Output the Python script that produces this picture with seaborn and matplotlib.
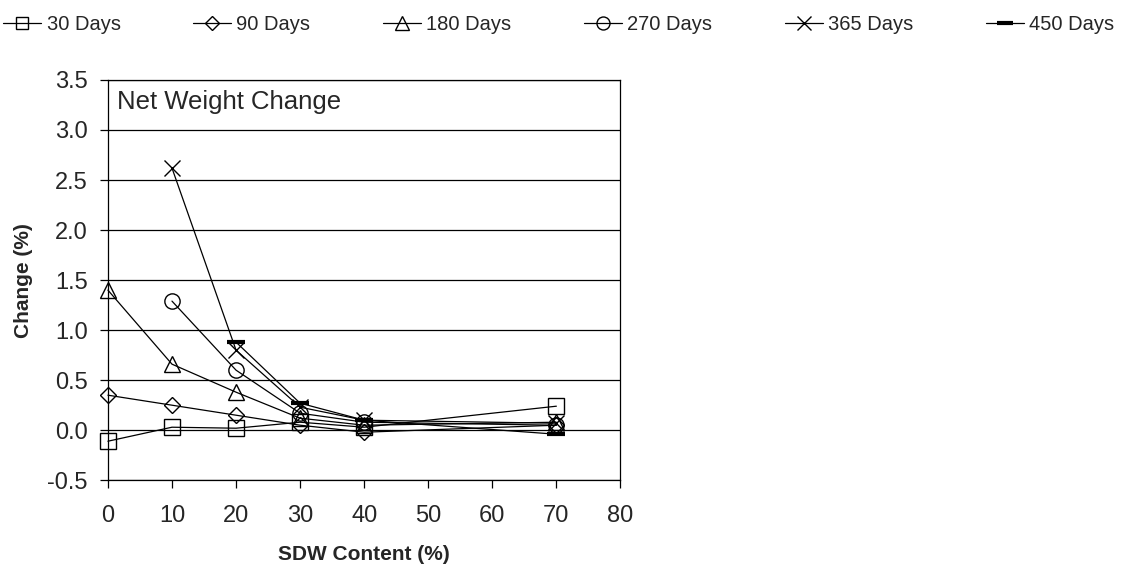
import numpy as np
import pandas as pd
import matplotlib
matplotlib.use('Agg')
import matplotlib.pyplot as plt
import seaborn as sns

# Data
sdw = [0, 10, 20, 30, 40, 70]
days_30 = [-0.11, 0.03, 0.02, 0.08, 0.03, 0.24]
days_90 = [0.35, 0.25, 0.15, 0.05, -0.02, 0.05]
days_180 = [1.40, 0.66, 0.38, 0.12, 0.05, 0.08]
days_270 = [np.nan, 1.29, 0.60, 0.17, 0.08, 0.05]
days_365 = [np.nan, 2.62, 0.80, 0.23, 0.10, 0.07]
days_450 = [np.nan, np.nan, 0.88, 0.27, 0.10, -0.04]

labels = ['30 Days', '90 Days', '180 Days', '270 Days', '365 Days', '450 Days']
series = [days_30, days_90, days_180, days_270, days_365, days_450]
markers = ['s', 'D', '^', 'o', 'x', '_']
msizes = [11, 8, 12, 11, 12, 13]
mew = [1.0, 1.0, 1.0, 1.0, 1.0, 3.0]

sns.set_style('white')
plt.rcParams['font.family'] = ['Liberation Sans', 'DejaVu Sans']

fig = plt.figure(figsize=(11.24, 5.67), dpi=100)
ax = fig.add_axes([0.096, 0.153, 0.456, 0.706])

for lab, vals, m, ms, w in zip(labels, series, markers, msizes, mew):
    df = pd.DataFrame({'SDW': sdw, 'Change': vals}).dropna()
    sns.lineplot(data=df, x='SDW', y='Change', ax=ax, color='black',
                 marker=m, markersize=ms, markerfacecolor='none',
                 markeredgecolor='black', markeredgewidth=w,
                 linewidth=0.9, label=lab, legend=False, clip_on=False,
                 zorder=3)

ax.set_xlim(0, 80)
ax.set_ylim(-0.5, 3.5)
ax.set_xticks(range(0, 81, 10))
ax.set_yticks(np.arange(-0.5, 3.51, 0.5))
ax.set_yticklabels([f'{v:.1f}' for v in np.arange(-0.5, 3.51, 0.5)])
ax.yaxis.grid(True, color='black', linewidth=0.9)
ax.tick_params(labelsize=17, direction='out', length=5.5, width=0.9,
               color='black', left=True, bottom=True)
ax.tick_params(axis='x', pad=12)
ax.tick_params(axis='y', pad=9)
for s in ax.spines.values():
    s.set_color('black')
    s.set_linewidth(0.9)
ax.set_xlabel('SDW Content (%)', fontsize=15, fontweight='bold', labelpad=13)
ax.set_ylabel('Change (%)', fontsize=15, fontweight='bold', labelpad=10)
ax.text(0.018, 0.975, 'Net Weight Change', transform=ax.transAxes,
        fontsize=18.5, va='top', ha='left')

handles, labs = ax.get_legend_handles_labels()
fig.legend(handles, labs, loc='upper center', ncol=6, frameon=False,
           fontsize=14.5, bbox_to_anchor=(0.497, 1.005), handlelength=1.9,
           handletextpad=0.25, columnspacing=3.6, markerscale=0.85)

fig.savefig('out.png', dpi=100)
